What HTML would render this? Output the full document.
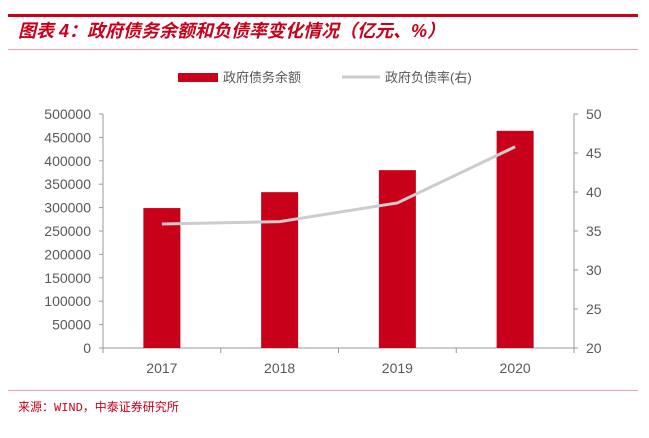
<!DOCTYPE html>
<html><head><meta charset="utf-8"><style>
body{margin:0;background:#fff;width:649px;height:433px;overflow:hidden;font-family:"Liberation Sans","Noto Sans CJK SC",sans-serif}
</style></head><body>
<svg width="649" height="433" xmlns="http://www.w3.org/2000/svg">
<rect x="8" y="14" width="630" height="3" fill="#c8001a"/>
<text x="18" y="37" font-size="18" font-weight="bold" font-style="italic" fill="#c8001a" font-family="Liberation Sans,Noto Sans CJK SC,sans-serif">图表 4：政府债务余额和负债率变化情况（亿元、%）</text>
<rect x="8" y="49" width="630" height="1" fill="#f0a0a8"/>
<g>
<rect x="178" y="73" width="40" height="9" fill="#c8001a"/>
<text x="223" y="82" font-size="13" fill="#555">政府债务余额</text>
<line x1="342" y1="77" x2="380" y2="77" stroke="#ccc" stroke-width="3"/>
<text x="385" y="82" font-size="13" fill="#555">政府负债率(右)</text>
</g>
<g id="plot"></g>
<rect x="8" y="390" width="630" height="1" fill="#f0a0a8"/>
<text x="18" y="411" font-size="12" fill="#c8001a" font-family="Liberation Mono,Noto Sans CJK SC,monospace">来源：WIND，中泰证券研究所</text>
</svg>
<script>
const categories=["2017","2018","2019","2020"];
const debtValues=[299000,333000,380000,464000];
const ratioValues=[35.9,36.2,38.6,45.8];
const leftTicks=[0,50000,100000,150000,200000,250000,300000,350000,400000,450000,500000];
const rightTicks=[20,25,30,35,40,45,50];
const NS="http://www.w3.org/2000/svg";
const g=document.getElementById('plot');
const L=103,R=574,T=114,B=348;
const yL=v=>B-(v/500000)*(B-T);
const yR=v=>B-((v-20)/30)*(B-T);
const bw=(R-L)/categories.length;
const xC=i=>L+bw*(i+0.5);
function mk(t,a){const e=document.createElementNS(NS,t);for(const k in a)e.setAttribute(k,a[k]);g.appendChild(e);return e;}
let e;
e=mk('line',{x1:L,y1:T,x2:L,y2:B,stroke:'#999'});


e=mk('line',{x1:R,y1:T,x2:R,y2:B,stroke:'#999'});


e=mk('line',{x1:L,y1:B,x2:R,y2:B,stroke:'#999'});


leftTicks.forEach(v=>{
 mk('line',{x1:L-4,y1:yL(v),x2:L,y2:yL(v),stroke:'#999'});
 e=mk('text',{x:L-12,y:yL(v)+5,'font-size':14,fill:'#595959','text-anchor':'end'});
 e.textContent=v;
 
 
});
rightTicks.forEach(v=>{
 mk('line',{x1:R,y1:yR(v),x2:R+4,y2:yR(v),stroke:'#999'});
 e=mk('text',{x:R+12,y:yR(v)+5,'font-size':14,fill:'#595959'});
 e.textContent=v;
 
 
});
for(let i=0;i<=categories.length;i++)mk('line',{x1:L+bw*i,y1:B,x2:L+bw*i,y2:B+5,stroke:'#999'});
categories.forEach((c,i)=>{
 e=mk('rect',{x:xC(i)-18.5,y:yL(debtValues[i]),width:37,height:B-yL(debtValues[i]),fill:'#c8001a'});
 
 
 e=mk('text',{x:xC(i),y:B+25,'font-size':14,fill:'#595959','text-anchor':'middle'});
 e.textContent=c;
 
 
});
e=mk('polyline',{points:ratioValues.map((v,i)=>xC(i)+','+yR(v)).join(' '),fill:'none',stroke:'#ccc','stroke-width':3});


</script>
</body></html>
